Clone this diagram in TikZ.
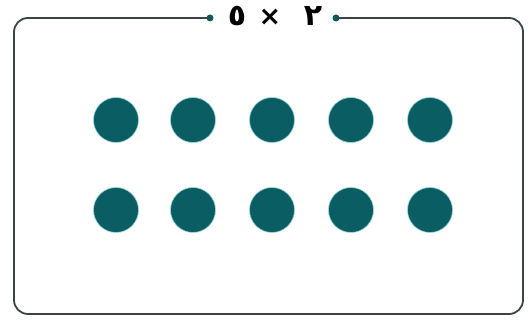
\documentclass[tikz,border=0pt]{standalone}
\usepackage{fontspec}
\newfontfamily\digitfont{DejaVu Sans}
\definecolor{dotteal}{HTML}{0A5D63}
\definecolor{framegray}{HTML}{3A4446}
\begin{document}
\begin{tikzpicture}[x=1pt,y=-1pt,
  dotstyle/.style={circle,fill=dotteal,draw=dotteal!60!cyan!40,line width=0.6pt,minimum size=45pt,inner sep=0pt},
  enddot/.style={circle,fill=dotteal,inner sep=0pt,minimum size=7pt},
  frameline/.style={draw=framegray,line width=1.8pt},
  digit/.style={font=\digitfont\bfseries\fontsize{30}{34}\selectfont,inner sep=0pt,anchor=center},
  timesmark/.style={font=\digitfont\bfseries\fontsize{27}{30}\selectfont,inner sep=0pt}]
\useasboundingbox (0,0) rectangle (528,320);
% label parts and end dots
\node[digit] (five) at (237,16) {٥};
\node[timesmark] (times) at (270,17) {×};
\node[digit] (two) at (313,16) {٢};
\node[enddot] (dl) at (210,18) {};
\node[enddot] (dr) at (336,18) {};
\coordinate (tl) at (14,18);
\coordinate (tr) at (523,18);
\coordinate (bl) at (14,314);
\coordinate (br) at (523,314);
% frame
\draw[frameline,rounded corners=14pt] (dl.center) -- (tl) -- (bl) -- (br) -- (tr) -- (dr.center);
% dots
\foreach \c [count=\i] in {116,193,272,351,430}{
  \node[dotstyle] (a\i) at (\c,120) {};
  \node[dotstyle] (b\i) at (\c,210) {};
}
\end{tikzpicture}
\end{document}
